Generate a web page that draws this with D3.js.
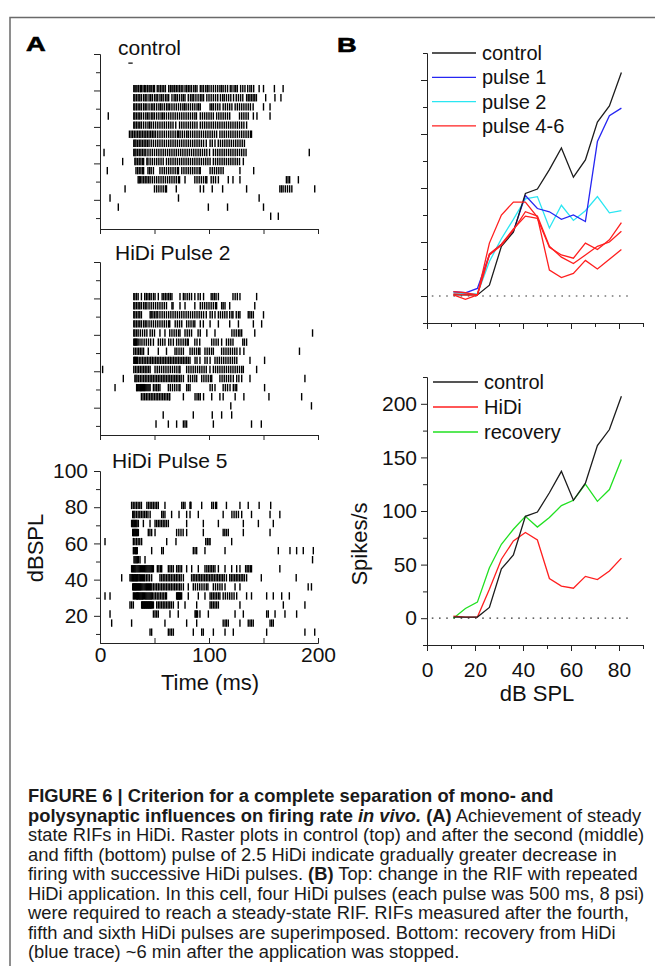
<!DOCTYPE html>
<html>
<head>
<meta charset="utf-8">
<script src="https://cdn.jsdelivr.net/npm/d3@7"></script>
<style>
  body { margin: 0; background: #fff; }
  svg { display: block; }
</style>
</head>
<body>
<svg id="fig" width="655" height="966"></svg>
<script>
// ---- data: rate-intensity functions (B) ----
const soundLevels = [11, 16, 21, 26, 31, 36, 41, 46, 51, 56, 61, 66, 71, 76, 81];
const rateControl = [1, 1, 1, 10, 46, 59, 95, 99, 117, 137, 110, 126, 161, 176, 207];
const ratePulse1 = [4, 3, 7, 38, 48, 60, 93, 81, 78, 71, 75, 69, 143, 167, 174];
const ratePulse2 = [3, 2, 2, 32, 53, 71, 90, 92, 63, 84, 70, 79, 92, 77, 79];
const ratePulse4 = [4, 3, 1, 49, 75, 87, 87, 73, 24, 17, 21, 33, 25, 34, 43];
const ratePulse5 = [1, -3, 1, 38, 47, 61, 78, 74, 46, 36, 30, 38, 46, 50, 60];
const ratePulse6 = [2, 1, 1, 39, 48, 62, 74, 72, 45, 38, 35, 49, 43, 52, 68];
const rateHiDi = [2, 1, 1, 27, 55, 72, 80, 73, 37, 30, 28, 39, 36, 44, 56];
const rateRecovery = [0, 9, 15, 47, 69, 83, 95, 85, 94, 105, 110, 125, 109, 120, 148];

const topLegend = ["control", "pulse 1", "pulse 2", "pulse 4-6"];
const bottomLegend = ["control", "HiDi", "recovery"];

// ---- data: rasters (A), spike times in ms, one row per sound level ----
const rasterLevels = [81, 76, 71, 66, 61, 56, 51, 46, 41, 36, 31, 26, 21, 16, 11];
const controlStimMark = [26, 30]; // small dash under the title

const controlSpikes = [
  [31,32,33,34,35.5,37,38,39.5,41,42,43.5,45,46,47.5,49,50,52.5,54,55.5,57,58.5,60,63,64.5,66,67,68.5,70,71.5,73,74.5,76,78,79.5,81,82.5,84,86,87.5,89,92,93.5,95,97,98.5,100,102,104,106,108,110,111.5,113,115,117,119.5,121,123,124.5,126,129,131,133,135.5,137.5,139,141,146,150,160,168],
  [31,32,33.5,35,36.5,38,40,41.5,43,45,46.5,48,50,51.5,53,55,56.5,58,60,61.5,63,66,68,69.5,71,73,75,76.5,78,81,83,84.5,86,88,90,92,93.5,95,98,100,102,104,106,108,110.5,112.5,114,116,118,120,122.5,125,127,129,131,134.5,136,137.5,139,140.5,142,143.5,152,160.5,166],
  [31,32,33.5,35,36.5,38,40,41.5,43,45,47,48.5,50,52,54,55.5,57,59,61,62.5,64,66,68,70,72,74,76,77.5,79,81,83,85,87,89,90.5,92,101,102.5,104,106,108,110,113,115,117,119,121,124,126,128,130,132,134,136,138,140.5,150,156],
  [7.6,31,32,33.5,35,36.5,38,40,42,43.5,45,47,48.5,50,52,54,56,57.5,59,61,63,65,67,69,71,73,75,77,79,81,83,85,87,88.5,92,94,96,98,100,102,104,107,109,111,113,115,117,119,128,130,132,134,136,140.7,144,156],
  [31,32,33.5,35,36.5,38,40,42,44,45.5,47,49,51,53,55,57,59,61,63,65,67,69.5,73,75,77,79,81,83,85,87,89,92,94,96,98,100,102,104,106,108,110,112,114,116,118,120,122,124,126,128,130,132,134.5],
  [27,28.5,30,31.5,33,34.5,36,37.5,39,40.5,42,43.5,45,46.5,48,49.5,51,53,55,57,59,61,63,65,67,69,71,72,73.5,75.5,77.5,79.5,81,83,85,87,89,91,93,95,97,99,101,103,105,107,110,112,114,116,118,120,122,124,126,128,130,132,134,136,138,139],
  [31,32,33,34.5,36,37.5,39,40.5,42,43.5,45,47,49,51,53,55,57,59,61,63,65,67,69,71,73,75,77,79,81,83,85,87,89,91,93,95,97.5,101,103,105.5,108.5,110.5,112.5,114.5,116.5,118.5,120.5,122.5,124.5,126.5,128.5,130.5,132.5],
  [3.7,31,32,33,34.5,36,37.5,39,40.5,42,44,46,48,50,52,54,56,58,60,62,64,66,68,70,72,74,76,78,80,82,84,86,88,90,92,94,96,98,100.5,104,106,108,110,112,114,116,118,120,122,124,126,128,130,132,134,192],
  [20.8,32,33,34.5,36,37.5,39,40,43,44,46,48,50,52,54,56,58,61,63,65,67,69,71,73,75,77,79,81,83,85,87,89,91,93,95,97,99,101,104,106,108,110,112,114,116,118,120,122,124,126,128,131.5],
  [6.7,33,34.5,36,37.5,39,40,44,45.5,47,49,55,57,59,61,63,65,67,69,71,72,75,77,79,81,83,85,87,89,91,92,101,103,105,107,109,111,113,128.4,141],
  [35,36,37,38.5,40,41.5,43,44.5,46,48,50,52,54,56,58,60,62,64,66,68,70,72,73,78,87,89,91,93,95,97,98,102,104,106,108.6,117.7,122,128.4,171,172.5,174,182],
  [23,50,52,54,56,58,60,61,70,92,95,103,112.5,134.5,165,166.5,168,170,172,174,176,197],
  [9.2,72,146],
  [16.8,99.4,117,150],
  [156.6,163.6]
];

const pulse2Spikes = [
  [31,32,33.5,35,38,41,42.5,44,45.5,47,49,50.5,53.5,57,58.5,60,61.5,63,64.5,66,73.4,76.5,78,80,82,84,87,90,92,95,102,103.5,105,106.5,108.6,122,124,126,128.4,143.7],
  [31,32,33.5,35,36.5,38,40,41.5,43,45,47,49,51,53,55,57,59,61,66,67,73.4,78,87,92,94,96,98,100,102,104,106,107,111.6,113,114.7,119,142],
  [31,32,33.5,35,36.5,38,46,47,48.5,50,51.5,53,55,57,59,61,63,65,67,69,71,73,75,77,79,81,83,85,87,89,91,93,95,97.5,101,103,105.5,108.6,110.5,112.5,114.5,116.5,119,121,122,125,127,128.4,136,137.5,139,140.7,150],
  [31,32,33.5,35,36.5,38,40,41.5,43,45,47,49,51,53,55,57,59,61,63,64,69,71,73,75,79.5,81.5,83.5,85.5,87,92,94.8,101,108.6,119,127,140.7,148.3],
  [31,32,33.5,35,37,39,41,43,46,48,50,55,59.6,64,66,68,70,72,73.4,78,80,82,84,90,92,98,105.5,121,123,125,127,128.4,130,142,195],
  [31,31.7,32.5,33.3,34,35,36.7,38.5,40.5,42.5,44.5,46.5,49,53.5,55.5,57.5,59.6,63,65,67.3,70.3,72.3,74.3,76.3,78.3,80,81,87,89,91.5,102.5,104.5,106.5,108.5,111.6,116,118,120,122,131,132.5,134.5],
  [31,32.5,34,35.5,37,38.5,40,44.3,53.5,61,68.8,70.5,72.5,74.5,76.5,82.6,84.6,86.6,88.6,90.5,91.7,96.3,98.3,100.3,102.3,104,111.6,113.6,115.6,117.6,119.6,121.6,123.6,125.6,128.4,132,183],
  [31,31.7,32.5,33.5,34.5,36,37.5,39,40.5,42,43.5,45,46.5,48,49.5,51,52.5,54,55.5,57,58.5,60,61.5,63,64.5,66,67.5,69,70.5,72,73.5,75,76.5,78,79.5,81,82.6,87.2,89,91.7,96.3,98.3,101,105.5,107.5,109.5,111.5,113.5,115.5,117.5,119.5,121.5,123.5,125.5,137.6,151],
  [2.4,31,32.5,34,35.5,37,38.5,40,41.5,43,44.5,46,50.5,52.5,54.5,56.5,58.5,60.5,62.5,64.5,66.5,68.5,70.5,72.5,73.4,79.5,81.5,83.5,85.5,87.5,89.5,91.5,93.5,95.5,97.5,100.9,104,106,108,110,112,114,116,118,120,122,124,126,128,130,131.5,143.7],
  [21.4,32,33,34,35.5,37,38.5,40,41.5,43,44.5,46,47.5,49,50.5,52,53.5,55,56.5,58,59.5,61,62.5,64,65.5,67,68.5,70,71.5,73,74.5,76.5,81,83,85,87,88.7,93.3,95.3,97.3,99.3,101.3,102.5,110,112,114,116,118,120,122.3,125.4,127.4,130,137.6,188],
  [13.8,33.6,34.2,35,35.7,36.5,37.2,38,39,40,41,42,43,44,45,46,49,50.5,52,53.5,55,62.7,64.5,66.5,68.5,70.5,72.5,73.4,79.5,81,82.6,101,103,105.5,113,115,117,119.3,122.3,124,125.4,151],
  [38,39.5,41,42.5,44,45.5,47,48.5,50,51.5,53,54.5,56,57.5,59,60.5,62,63.5,64,76.5,87.2,89,90.5,92,95,102.5,110,113,124,132,155,185],
  [120,194],
  [58,85.6,103,111.6,120.8],
  [51.4,62.7,70.3,76.5,78,79.5,104,139,148]
];

const pulse5Spikes = [
  [29,30.5,32,33.5,35,36.5,38,43,44.5,46,47.5,49,50.5,52,53.5,59.6,75,76.5,78,82.6,83,83.4,93.3,102.5,104,106,107,116,128.4,136,146,156.6],
  [30,31,32,33.5,35,36.5,38,39.5,41,42.5,44,46,56.6,58,59.6,65.7,72.5,79.5,82.6,90.2,113,121,123,125,127,130,139,156,165],
  [29,29.7,30.4,31.1,31.8,32.5,33.2,34,35.2,39.8,45.9,50.5,52,53.5,55,56.5,58,59.5,61,62.7,79.5,94.8,108.6,131.5,145.3,159],
  [30,30.7,31.4,32.1,32.8,33.5,34.2,35.2,44.3,45.8,47.4,50.5,70.3,72.3,74.3,76.3,79.5,94.8,113,114.5,116,117.7,131.5,156],
  [4.6,30.6,32,33.5,35,36.5,38.2,61.2,69.7,97,98.5,100,101,120.8],
  [30.6,31.3,32,32.7,33.5,34.2,47.4,56.6,58.1,85.6,87.2,88.7,96.3,114.7,163.6,174.3,180.4,186.5,195.7],
  [31.2,32.2,33.2,34.2,35.2,36.7,41.3,195],
  [29,29.8,30.6,31.4,32.2,33,34,35,36,37,38,39,40,41,42,43,44,45,46,47,48,49,52.6,54,55.5,56.6,62.7,64.2,65.7,67.3,70.3,71.8,73.4,74.9,79.5,84.1,90.2,96.3,98,99.5,101,102.5,104,105.5,108.6,114.7,120.8,125.4,128.4,133.6,135,136.5,138,139,165],
  [19.9,27.5,28.5,29.3,30,30.7,31.4,32.1,32.8,33.5,34.2,35,36,37,38,39,40,41,42.5,44,45.5,47.4,55,56.5,58,59.5,61,62.5,64,65.5,67,68.5,70,71.5,73,74.5,76.5,84,85.5,87,88.5,90,91.5,93,94.5,96,97.5,99,100.5,102,103.5,105,106.5,108,109.5,111,112.5,114,116,119,120.5,122,123.5,125,126.5,128,129.5,131,132.5,134.5,148,180],
  [30,30.6,31.2,31.8,32.4,33,33.6,34.2,34.8,35.5,36.2,37,37.8,38.6,39.5,40.5,41.5,42.5,43.5,44.5,45.5,46.5,47.5,49,50.5,52,53.5,55,56.5,58,59.5,61,62.5,64,65.5,67,68.5,70,71.5,73,74.5,76.5,81,85.6,87.5,89.5,91.5,93.5,95.5,97.5,99,104,106,108,110,112,114.7,123.9,128.4,191,194],
  [4.6,9.2,30.6,31.5,32.5,33.5,34,34.5,35.2,36,36.8,37.6,38.4,39.2,40,41,42,43,44,45,46,47,48,49.5,51,52.5,54,55.5,57,58.5,60,61,70.3,70.9,71.5,72.1,72.7,73.3,74,74.9,81,90.2,96.3,101,102.5,104,105.5,107,108.6,110,113,115,117,119,121,123,125.4,134.5,139,152.9,159,166.7,173.7],
  [27.5,29,30.6,38.2,38.8,39.4,40,40.6,41.2,41.8,42.4,43,43.6,44.2,44.8,45.4,46,46.6,47.2,48,49,52,53.5,55,56.5,58,59.5,61,62.5,64,65.5,67.3,71.8,78,88.7,101,102.5,104,105.5,107,108.6,128.4,168.2,188],
  [9.2,49,50.5,52,53.5,64.2,71.8,87.2,88,88.7,89.5,91.7,99.4,123.9,131.5,152.9,154.4,160.6,169.7,180.4],
  [10.7,29,59.6,79.5,88.7,113,114.7,116,117.7,128.4,136,137.6,139,140.6,156,157.5,159],
  [45.9,47.4,62.7,64.2,65.7,67.3,85.6,93.3,94.8,104,114.7,122.3,152.9,188,197]
];

// ---- caption ----
const captionLines = [
  [["FIGURE 6 | Criterion for a complete separation of mono- and", "b"]],
  [["polysynaptic influences on firing rate ", "b"], ["in vivo.", "bi"], [" (A)", "b"], [" Achievement of steady", ""]],
  [["state RIFs in HiDi. Raster plots in control (top) and after the second (middle)", ""]],
  [["and fifth (bottom) pulse of 2.5 HiDi indicate gradually greater decrease in", ""]],
  [["firing with successive HiDi pulses. ", ""], ["(B)", "b"], [" Top: change in the RIF with repeated", ""]],
  [["HiDi application. In this cell, four HiDi pulses (each pulse was 500 ms, 8 psi)", ""]],
  [["were required to reach a steady-state RIF. RIFs measured after the fourth,", ""]],
  [["fifth and sixth HiDi pulses are superimposed. Bottom: recovery from HiDi", ""]],
  [["(blue trace) ~6 min after the application was stopped.", ""]]
];

const FONT = "'Liberation Sans', Arial, Helvetica, sans-serif";
const AXIS = "#222";
const svg = d3.select("#fig");

// frame
svg.append("path")
  .attr("d", "M10,966V17.5H655")
  .attr("fill", "none").attr("stroke", "#6a6a6a").attr("stroke-width", 1.5);

function styleAxis(g, fontSize){
  g.attr("font-family", null).attr("font-size", null);
  g.select(".domain").attr("stroke", AXIS);
  g.selectAll(".tick line").attr("stroke", AXIS);
  g.selectAll(".tick text").attr("fill", "#111")
    .style("font-family", FONT).style("font-size", fontSize + "px");
}

function addText(x, y, txt, size, opts = {}){
  const t = svg.append("text").attr("x", x).attr("y", y).text(txt)
    .style("font-family", FONT).style("font-size", size + "px").attr("fill", "#111");
  if (opts.anchor) t.attr("text-anchor", opts.anchor);
  if (opts.weight) t.style("font-weight", opts.weight);
  if (opts.rotate) t.attr("transform", `rotate(-90,${x},${y})`);
  return t;
}

// panel letters
addText(0, 0, "A", 21, {weight: "bold"}).attr("fill", "#000").attr("stroke", "#000").attr("stroke-width", 0.6)
  .attr("transform", "translate(26,50.5) scale(1.3,1)");
addText(0, 0, "B", 21, {weight: "bold"}).attr("fill", "#000").attr("stroke", "#000").attr("stroke-width", 0.6)
  .attr("transform", "translate(337,51.5) scale(1.3,1)");

// ---------- A: rasters ----------
const timeX = d3.scaleLinear().domain([0, 200]).range([100, 318]);
const rasters = [
  {title: "control", spikes: controlSpikes, top: 54, bottom: 229, lo: 4, tx: 118, ty: 55, labels: false},
  {title: "HiDi Pulse 2", spikes: pulse2Spikes, top: 262, bottom: 435, lo: 5, tx: 115, ty: 260, labels: false},
  {title: "HiDi Pulse 5", spikes: pulse5Spikes, top: 471, bottom: 643, lo: 5, tx: 112, ty: 468, labels: true}
];

function drawRaster(p){
  const y = d3.scaleLinear().domain([p.lo, 100]).range([p.bottom, p.top]);
  const g = svg.append("g");

  const rows = g.selectAll("g.row").data(p.spikes).join("g")
    .attr("class", "row")
    .attr("transform", (d, i) => `translate(0,${y(rasterLevels[i])})`);
  rows.selectAll("line").data(d => d).join("line")
    .attr("x1", t => timeX(t)).attr("x2", t => timeX(t))
    .attr("y1", -3.7).attr("y2", 3.7)
    .attr("stroke", "#000").attr("stroke-width", 1.4);

  // y axis, major + minor
  const yMaj = g.append("g").attr("transform", "translate(100,0)")
    .call(d3.axisLeft(y).tickValues([20, 40, 60, 80, 100]).tickSize(6).tickSizeOuter(0).tickPadding(6)
      .tickFormat(p.labels ? d3.format("d") : ""));
  styleAxis(yMaj, 21);
  const yMin = g.append("g").attr("transform", "translate(100,0)")
    .call(d3.axisLeft(y).tickValues([10, 30, 50, 70, 90]).tickSize(4).tickSizeOuter(0).tickFormat(""));
  styleAxis(yMin, 21);

  // x axis
  if (p.labels) {
    const xMaj = g.append("g").attr("transform", `translate(0,${p.bottom})`)
      .call(d3.axisBottom(timeX).tickValues([0, 100, 200]).tickSize(-5).tickSizeOuter(0).tickFormat(d3.format("d")));
    styleAxis(xMaj, 21);
    xMaj.selectAll(".tick text").attr("y", 19).attr("dy", null);
    const xMin = g.append("g").attr("transform", `translate(0,${p.bottom})`)
      .call(d3.axisBottom(timeX).tickValues([50, 150]).tickSize(-5).tickSizeOuter(0).tickFormat(""));
    styleAxis(xMin, 21);
  } else {
    const xAx = g.append("g").attr("transform", `translate(0,${p.bottom})`)
      .call(d3.axisBottom(timeX).tickValues([0, 50, 100, 150, 200]).tickSize(5).tickSizeOuter(0).tickFormat(""));
    styleAxis(xAx, 21);
  }

  addText(p.tx, p.ty, p.title, 21);
  return y;
}

const yControl = drawRaster(rasters[0]);
drawRaster(rasters[1]);
drawRaster(rasters[2]);

svg.append("line")
  .attr("x1", timeX(controlStimMark[0])).attr("x2", timeX(controlStimMark[1]))
  .attr("y1", yControl(95)).attr("y2", yControl(95))
  .attr("stroke", "#000").attr("stroke-width", 1.2);

addText(210, 690, "Time (ms)", 22, {anchor: "middle"});
addText(43, 548, "dBSPL", 22, {anchor: "middle", rotate: true});

// ---------- B: rate-intensity functions ----------
const dbX = d3.scaleLinear().domain([0, 90]).range([427, 643]);
const line = d3.line().x((d, i) => dbX(soundLevels[i])).y(d => d);

const BLACK = "#1c1c1c", BLUE = "#2626f2", CYAN = "#2ae6f2", RED = "#ff1f1f", GREEN = "#21e021";

const rifPanels = [
  {top: 53, bottom: 323, labels: false,
   series: [[ratePulse2, CYAN], [ratePulse1, BLUE], [rateControl, BLACK], [ratePulse4, RED], [ratePulse5, RED], [ratePulse6, RED]],
   legend: topLegend, legendColors: [BLACK, BLUE, CYAN, RED], legendY: 53, legendStep: 24.3, legendX: [432, 476]},
  {top: 377, bottom: 645, labels: true,
   series: [[rateRecovery, GREEN], [rateHiDi, RED], [rateControl, BLACK]],
   legend: bottomLegend, legendColors: [BLACK, RED, GREEN], legendY: 382, legendStep: 25, legendX: [433, 478]}
];

function drawRif(p){
  const y = d3.scaleLinear().domain([-25, 225]).range([p.bottom, p.top]);
  const g = svg.append("g");

  // zero reference
  g.append("line")
    .attr("x1", dbX(2)).attr("x2", dbX(86))
    .attr("y1", y(0)).attr("y2", y(0))
    .attr("stroke", "#333").attr("stroke-width", 1.2).attr("stroke-dasharray", "1.6,5.6");

  const yMaj = g.append("g").attr("transform", `translate(${dbX(0)},0)`)
    .call(d3.axisLeft(y).tickValues([0, 50, 100, 150, 200]).tickSize(6).tickSizeOuter(0).tickPadding(4)
      .tickFormat(p.labels ? d3.format("d") : ""));
  styleAxis(yMaj, 21);
  const yMin = g.append("g").attr("transform", `translate(${dbX(0)},0)`)
    .call(d3.axisLeft(y).tickValues([-25, 25, 75, 125, 175, 225]).tickSize(4).tickSizeOuter(0).tickFormat(""));
  styleAxis(yMin, 21);

  const xMaj = g.append("g").attr("transform", `translate(0,${p.bottom})`)
    .call(d3.axisBottom(dbX).tickValues([0, 20, 40, 60, 80]).tickSize(6).tickSizeOuter(0)
      .tickFormat(p.labels ? d3.format("d") : ""));
  styleAxis(xMaj, 21);
  xMaj.selectAll(".tick text").attr("y", 32).attr("dy", null);
  const xMin = g.append("g").attr("transform", `translate(0,${p.bottom})`)
    .call(d3.axisBottom(dbX).tickValues([10, 30, 50, 70, 90]).tickSize(4).tickSizeOuter(0).tickFormat(""));
  styleAxis(xMin, 21);

  g.selectAll("path.rif").data(p.series).join("path")
    .attr("class", "rif")
    .attr("d", s => line.y(v => y(v))(s[0]))
    .attr("fill", "none").attr("stroke", s => s[1]).attr("stroke-width", 1.3)
    .attr("stroke-linejoin", "miter");

  const leg = g.selectAll("g.leg").data(p.legend).join("g")
    .attr("class", "leg")
    .attr("transform", (d, i) => `translate(0,${p.legendY + i * p.legendStep})`);
  leg.append("line")
    .attr("x1", p.legendX[0]).attr("x2", p.legendX[1])
    .attr("stroke", (d, i) => p.legendColors[i]).attr("stroke-width", 1.3);
  leg.append("text")
    .attr("x", p.legendX[1] + 6).attr("y", 7)
    .text(d => d)
    .style("font-family", FONT).style("font-size", "20px").attr("fill", "#111");
}

rifPanels.forEach(drawRif);

addText(537, 701, "dB SPL", 22, {anchor: "middle"});
addText(367, 544, "Spikes/s", 22, {anchor: "middle", rotate: true});

// ---------- caption ----------
// one common horizontal squeeze taken from the full-width third line,
// tightened further on any line that would run past the right edge
const capTop = 802, capStep = 19.5, capLeft = 28, capRight = 645;
const capNodes = captionLines.map((segs, i) => {
  const t = svg.append("text")
    .style("font-family", "'Liberation Sans Narrow', 'Liberation Sans', Arial, sans-serif")
    .style("font-size", "17.5px").attr("fill", "#1a1a1a");
  segs.forEach(([txt, st]) => {
    t.append("tspan").text(txt)
      .style("font-weight", st.includes("b") ? "bold" : "normal")
      .style("font-style", st.includes("i") ? "italic" : "normal");
  });
  return t;
});
const squeeze = (capRight - capLeft) / capNodes[2].node().getComputedTextLength();
capNodes.forEach((t, i) => {
  const w = t.node().getComputedTextLength();
  const s = Math.min(squeeze, (capRight - capLeft) / w);
  t.attr("transform", `translate(${capLeft},${capTop + i * capStep}) scale(${s},1)`);
});
</script>
</body>
</html>
